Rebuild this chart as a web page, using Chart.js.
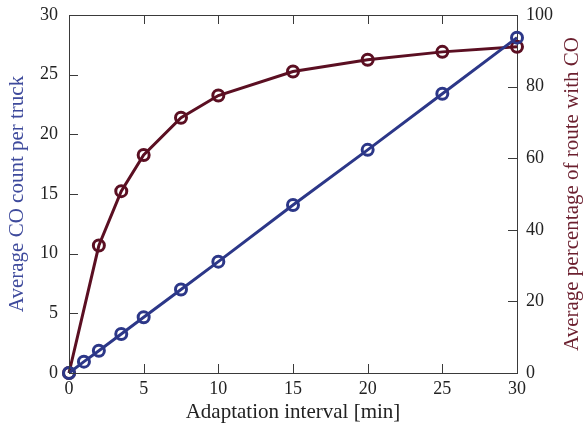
<!DOCTYPE html>
<html>
<head>
<meta charset="utf-8">
<script src="https://cdn.jsdelivr.net/npm/chart.js@4/dist/chart.umd.min.js"></script>
<style>
  html, body { margin:0; padding:0; background:#fff; }
  #wrap { width:584px; height:431px; }
</style>
</head>
<body>
<div id="wrap"><canvas id="ch"></canvas></div>
<script>
// ── data ──────────────────────────────────────────────
const xCount   = [0, 1, 2, 3.5, 5, 7.5, 10, 15, 20, 25, 30];
const coCount  = [0, 0.95, 1.87, 3.27, 4.67, 7.0, 9.33, 14.08, 18.7, 23.4, 28.1];
const xPct     = [0, 2, 3.5, 5, 7.5, 10, 15, 20, 25, 30];
const routePct = [0, 35.6, 50.8, 60.9, 71.3, 77.5, 84.2, 87.5, 89.7, 91.1];

const xTicks  = [0, 5, 10, 15, 20, 25, 30];
const yTicks  = [0, 5, 10, 15, 20, 25, 30];
const y1Ticks = [0, 20, 40, 60, 80, 100];

const BLUE = '#2c3788', RED = '#5b0f22', AXIS = '#3a3a3a';
const FONT = "'Liberation Serif', 'DejaVu Serif', serif";

// inward ticks, top frame line, axis titles
const frame = {
  id: 'frame',
  afterDraw(c) {
    const { ctx, chartArea: a, scales } = c;
    const L = 9;
    ctx.save();
    ctx.strokeStyle = AXIS; ctx.lineWidth = 1;
    ctx.beginPath();
    ctx.moveTo(a.left, a.top + 0.5); ctx.lineTo(a.right, a.top + 0.5);
    xTicks.forEach(v => {
      const px = Math.round(scales.x.getPixelForValue(v)) + 0.5;
      ctx.moveTo(px, a.bottom); ctx.lineTo(px, a.bottom - L);
      ctx.moveTo(px, a.top);    ctx.lineTo(px, a.top + L);
    });
    yTicks.forEach(v => {
      const py = Math.round(scales.y.getPixelForValue(v)) + 0.5;
      ctx.moveTo(a.left, py); ctx.lineTo(a.left + L, py);
    });
    y1Ticks.forEach(v => {
      const py = Math.round(scales.y1.getPixelForValue(v)) + 0.5;
      ctx.moveTo(a.right, py); ctx.lineTo(a.right - L, py);
    });
    ctx.stroke();

    ctx.font = '21px ' + FONT;
    ctx.textAlign = 'center'; ctx.textBaseline = 'middle';
    ctx.fillStyle = '#222';
    ctx.fillText('Adaptation interval [min]', (a.left + a.right) / 2, 412);
    const mid = (a.top + a.bottom) / 2;
    ctx.fillStyle = '#3e4a9c';
    ctx.translate(17, mid); ctx.rotate(-Math.PI / 2);
    ctx.fillText('Average CO count per truck', 0, 0);
    ctx.setTransform(1, 0, 0, 1, 0, 0);
    ctx.fillStyle = '#6b1f2e';
    ctx.translate(572, mid); ctx.rotate(-Math.PI / 2);
    ctx.fillText('Average percentage of route with CO', 0, 0);
    ctx.restore();
  }
};

const tickFont = { family: FONT, size: 18 };
const noPad = s => { s.paddingTop = 0; s.paddingBottom = 0; };

new Chart(document.getElementById('ch'), {
  type: 'line',
  data: {
    datasets: [
      { label: 'CO count', data: xCount.map((x, i) => ({ x, y: coCount[i] })), yAxisID: 'y',
        borderColor: BLUE, borderWidth: 3, pointRadius: 5.5, pointBorderWidth: 3,
        pointBackgroundColor: 'rgba(0,0,0,0)', pointBorderColor: BLUE, clip: false },
      { label: 'Route %', data: xPct.map((x, i) => ({ x, y: routePct[i] })), yAxisID: 'y1',
        borderColor: RED, borderWidth: 3, pointRadius: 5.5, pointBorderWidth: 3,
        pointBackgroundColor: 'rgba(0,0,0,0)', pointBorderColor: RED, clip: false },
    ]
  },
  options: {
    responsive: true, maintainAspectRatio: false, animation: false,
    layout: { padding: { top: 15, left: 0, right: 0, bottom: 0 } },
    plugins: { legend: { display: false }, tooltip: { enabled: false } },
    scales: {
      x: { type: 'linear', min: 0, max: 30,
        afterBuildTicks: s => { s.ticks = xTicks.map(v => ({ value: v })); },
        afterFit: s => { s.height = 58; s.paddingLeft = 0; s.paddingRight = 0; },
        grid: { display: false, drawTicks: false }, border: { color: AXIS, width: 1 },
        ticks: { color: '#222', font: tickFont, padding: 5, maxRotation: 0 } },
      y: { position: 'left', min: 0, max: 30,
        afterBuildTicks: s => { s.ticks = yTicks.map(v => ({ value: v })); },
        afterFit: s => { s.width = 69; noPad(s); },
        grid: { display: false, drawTicks: false }, border: { color: AXIS, width: 1 },
        ticks: { color: '#222', font: tickFont, padding: 11 } },
      y1: { position: 'right', min: 0, max: 100,
        afterBuildTicks: s => { s.ticks = y1Ticks.map(v => ({ value: v })); },
        afterFit: s => { s.width = 67; noPad(s); },
        grid: { display: false, drawTicks: false }, border: { color: AXIS, width: 1 },
        ticks: { color: '#222', font: tickFont, padding: 9 } },
    }
  },
  plugins: [frame]
});
</script>
</body>
</html>
